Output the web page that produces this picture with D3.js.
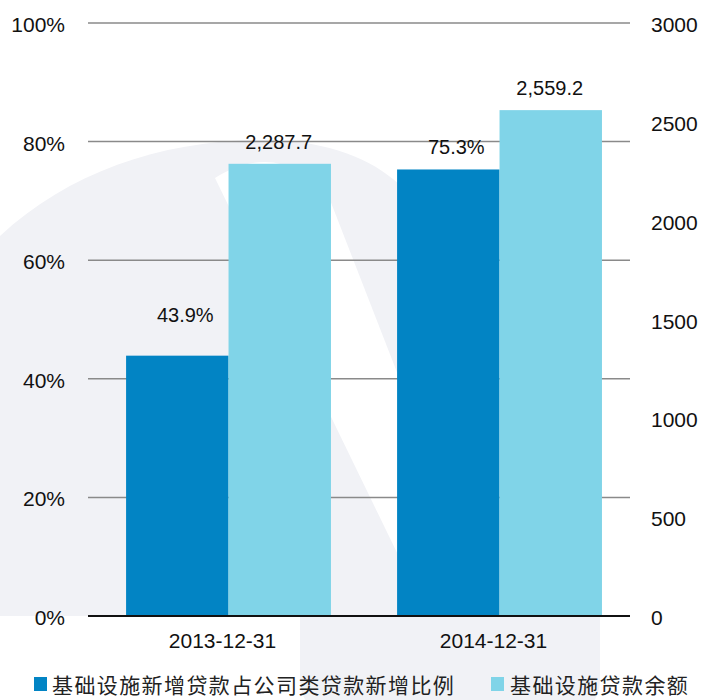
<!DOCTYPE html>
<meta charset="utf-8">
<style>
body { margin: 0; background: #fff; }
text { font-family: "Liberation Sans", Arial, sans-serif; fill: #111; }
.tick-label { font-size: 21px; }
.value-label { font-size: 20px; }
.legend text { font-family: "Noto Sans CJK SC", sans-serif; font-size: 21px; letter-spacing: 1.4px; fill: #222; }
</style>
<svg width="711" height="700"></svg>
<script src="https://cdnjs.cloudflare.com/ajax/libs/d3/7.8.5/d3.min.js"></script>
<script>

// data
var categories = ["2013-12-31", "2014-12-31"];
var ratioValues = [0.439, 0.753];          // 基础设施新增贷款占公司类贷款新增比例
var balanceValues = [2287.7, 2559.2];      // 基础设施贷款余额
var seriesNames = ["基础设施新增贷款占公司类贷款新增比例", "基础设施贷款余额"];
var leftTicks = [0, 0.2, 0.4, 0.6, 0.8, 1.0];
var rightTicks = [0, 500, 1000, 1500, 2000, 2500, 3000];

var colors = { ratio: "#0284c4", balance: "#80d4e8" };

var svg = d3.select("svg"),
    plotLeft = 88, plotRight = 630, plotTop = 23, plotBottom = 616;

// faint watermark in the background
var wm = svg.append("g").attr("class", "watermark");
wm.append("path")
    .attr("d", "M0,236 C70,170 170,138 270,140 C330,142 370,158 400,185 L400,616 L0,616 Z")
    .attr("fill", "#f1f2f6");
wm.append("path")
    .attr("d", "M215,178 C260,150 300,160 330,200 L470,560 L420,600 Z")
    .attr("fill", "#fff");
wm.append("rect")
    .attr("x", 300).attr("y", 560).attr("width", 300).attr("height", 160).attr("rx", 40)
    .attr("fill", "#f1f2f6");

var x0 = d3.scaleBand()
    .domain(categories)
    .range([plotLeft, plotRight])
    .paddingInner(0.244)
    .paddingOuter(0.122)
    .align(0.576);

var x1 = d3.scaleBand()
    .domain(["ratio", "balance"])
    .range([0, x0.bandwidth()]);

var xLabel = d3.scalePoint()
    .domain(categories)
    .range([plotLeft, plotRight])
    .padding(0.5);

var yL = d3.scaleLinear().domain([0, 1]).range([plotBottom, plotTop]);
var yR = d3.scaleLinear().domain([0, 3000]).range([plotBottom, plotTop]);

// gridlines
svg.append("g")
    .selectAll("line")
    .data(leftTicks.filter(function(d) { return d > 0; }))
    .enter().append("line")
    .attr("x1", plotLeft).attr("x2", plotRight)
    .attr("y1", function(d) { return yL(d); })
    .attr("y2", function(d) { return yL(d); })
    .attr("stroke", "#8a8a8a")
    .attr("stroke-width", 1.5);

// bars
var rows = categories.map(function(c, i) {
  return { cat: c, ratio: ratioValues[i], balance: balanceValues[i] };
});

var groups = svg.append("g")
    .selectAll("g")
    .data(rows)
    .enter().append("g")
    .attr("transform", function(d) { return "translate(" + x0(d.cat) + ",0)"; });

groups.append("rect")
    .attr("x", x1("ratio"))
    .attr("width", x1.bandwidth())
    .attr("y", function(d) { return yL(d.ratio); })
    .attr("height", function(d) { return plotBottom - yL(d.ratio); })
    .attr("fill", colors.ratio);

groups.append("rect")
    .attr("x", x1("balance"))
    .attr("width", x1.bandwidth())
    .attr("y", function(d) { return yR(d.balance); })
    .attr("height", function(d) { return plotBottom - yR(d.balance); })
    .attr("fill", colors.balance);

// value labels
groups.append("text")
    .attr("class", "value-label")
    .attr("text-anchor", "middle")
    .attr("x", x1("ratio") + x1.bandwidth() / 2 + 8)
    .attr("y", function(d, i) { return yL(d.ratio) - (i === 0 ? 34 : 15); })
    .text(function(d) { return d3.format(".1%")(d.ratio); });

groups.append("text")
    .attr("class", "value-label")
    .attr("text-anchor", "middle")
    .attr("x", x1("balance") + x1.bandwidth() / 2 - 1)
    .attr("y", function(d) { return yR(d.balance) - 15; })
    .text(function(d) { return d3.format(",.1f")(d.balance); });

// baseline
svg.append("line")
    .attr("x1", plotLeft).attr("x2", plotRight)
    .attr("y1", plotBottom).attr("y2", plotBottom)
    .attr("stroke", "#111")
    .attr("stroke-width", 2);

// left axis labels
svg.append("g")
    .selectAll("text")
    .data(leftTicks)
    .enter().append("text")
    .attr("class", "tick-label")
    .attr("text-anchor", "end")
    .attr("x", 65)
    .attr("y", function(d) { return yL(d) + 9; })
    .text(function(d) { return d3.format(".0%")(d); });

// right axis labels
svg.append("g")
    .selectAll("text")
    .data(rightTicks)
    .enter().append("text")
    .attr("class", "tick-label")
    .attr("x", 651)
    .attr("y", function(d) { return yR(d) + 9; })
    .text(function(d) { return d; });

// category labels
svg.append("g")
    .selectAll("text")
    .data(categories)
    .enter().append("text")
    .attr("class", "tick-label")
    .attr("text-anchor", "middle")
    .attr("x", function(d) { return xLabel(d) - 1; })
    .attr("y", 648)
    .text(function(d) { return d; });

// legend
var legend = svg.append("g").attr("class", "legend");
var legendX = [34, 491];
var legendItems = legend.selectAll("g")
    .data(seriesNames)
    .enter().append("g")
    .attr("transform", function(d, i) { return "translate(" + legendX[i] + ",677)"; });

legendItems.append("rect")
    .attr("width", 13).attr("height", 14)
    .attr("fill", function(d, i) { return i === 0 ? colors.ratio : colors.balance; });

legendItems.append("text")
    .attr("x", function(d, i) { return i === 0 ? 18 : 19; })
    .attr("y", 7)
    .attr("dominant-baseline", "central")
    .text(function(d) { return d; });

</script>
